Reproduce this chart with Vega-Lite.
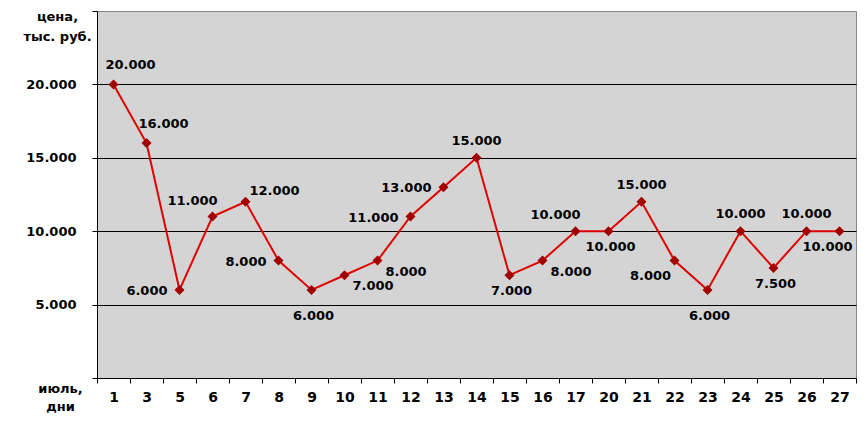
{
  "$schema": "https://vega.github.io/schema/vega-lite/v6.json",
  "autosize": {"type": "none"},
  "padding": {"left": 97, "top": 11, "right": 12, "bottom": 51},
  "width": 759,
  "height": 367,
  "background": "white",
  "config": {
    "view": {"fill": "#D4D4D4", "stroke": "#888888", "strokeWidth": 1},
    "font": "DejaVu Sans",
    "text": {"font": "DejaVu Sans", "fontWeight": "bold", "fontSize": 13, "color": "#000000"}
  },
  "data": {
    "values": [
      {"day": "1", "price": 20, "label": "20.000"},
      {"day": "3", "price": 16, "label": "16.000"},
      {"day": "5", "price": 6, "label": "6.000"},
      {"day": "6", "price": 11, "label": "11.000"},
      {"day": "7", "price": 12, "label": "12.000"},
      {"day": "8", "price": 8, "label": "8.000"},
      {"day": "9", "price": 6, "label": "6.000"},
      {"day": "10", "price": 7, "label": "7.000"},
      {"day": "11", "price": 8, "label": "8.000"},
      {"day": "12", "price": 11, "label": "11.000"},
      {"day": "13", "price": 13, "label": "13.000"},
      {"day": "14", "price": 15, "label": "15.000"},
      {"day": "15", "price": 7, "label": "7.000"},
      {"day": "16", "price": 8, "label": "8.000"},
      {"day": "17", "price": 10, "label": "10.000"},
      {"day": "20", "price": 10, "label": "10.000"},
      {"day": "21", "price": 12, "label": "15.000"},
      {"day": "22", "price": 8, "label": "8.000"},
      {"day": "23", "price": 6, "label": "6.000"},
      {"day": "24", "price": 10, "label": "10.000"},
      {"day": "25", "price": 7.5, "label": "7.500"},
      {"day": "26", "price": 10, "label": "10.000"},
      {"day": "27", "price": 10, "label": "10.000"}
    ]
  },
  "encoding": {
    "x": {
      "field": "day", "type": "ordinal", "sort": null,
      "scale": {"type": "band", "paddingInner": 0, "paddingOuter": 0},
      "axis": {
        "title": ["июль,", "дни"],
        "titleFont": "DejaVu Sans", "titleFontWeight": "bold", "titleFontSize": 13, "titleColor": "#000000",
        "titleAngle": 0, "titleAlign": "center", "titleBaseline": "alphabetic",
        "titleX": -37, "titleY": 14, "titleLineHeight": 18,
        "labelAngle": 0, "labelFont": "DejaVu Sans", "labelFontWeight": "bold", "labelFontSize": 14,
        "labelColor": "#000000", "labelPadding": 7, "labelBaseline": "top",
        "tickBand": "extent", "tickSize": 5, "tickColor": "black",
        "domainColor": "black", "domainWidth": 1, "grid": false
      }
    },
    "y": {
      "field": "price", "type": "quantitative",
      "scale": {"domain": [0, 25], "nice": false, "zero": true},
      "axis": {
        "values": [0, 5, 10, 15, 20, 25],
        "labelExpr": "datum.value == 0 || datum.value == 25 ? '' : format(datum.value, '.3f')",
        "title": ["цена,", "тыс. руб."],
        "titleFont": "DejaVu Sans", "titleFontWeight": "bold", "titleFontSize": 13, "titleColor": "#000000",
        "titleAngle": 0, "titleAlign": "center", "titleBaseline": "alphabetic",
        "titleX": -40, "titleY": 9, "titleLineHeight": 20,
        "labelFont": "DejaVu Sans", "labelFontWeight": "bold", "labelFontSize": 13,
        "labelColor": "#000000", "labelPadding": 16,
        "tickSize": 5, "tickColor": "black",
        "domainColor": "black", "domainWidth": 1,
        "grid": true, "gridColor": "black", "gridWidth": 1,
        "gridOpacity": {"condition": {"test": "datum.value == 0 || datum.value == 25", "value": 0}, "value": 1}
      }
    }
  },
  "layer": [
    {"mark": {"type": "line", "color": "#E00000", "strokeWidth": 2}},
    {"mark": {"type": "point", "shape": "diamond", "filled": true, "size": 100, "color": "#A00000", "opacity": 1}},
    {
      "transform": [{"filter": {"field": "day", "oneOf": ["14", "21", "24", "26"]}}],
      "mark": {"type": "text", "dx": 0, "dy": -17},
      "encoding": {"text": {"field": "label"}}
    },
    {
      "transform": [{"filter": {"field": "day", "oneOf": ["1", "3"]}}],
      "mark": {"type": "text", "dx": 17, "dy": -19},
      "encoding": {"text": {"field": "label"}}
    },
    {
      "transform": [{"filter": {"field": "day", "oneOf": ["7"]}}],
      "mark": {"type": "text", "dx": 29, "dy": -11},
      "encoding": {"text": {"field": "label"}}
    },
    {
      "transform": [{"filter": {"field": "day", "oneOf": ["6", "17"]}}],
      "mark": {"type": "text", "dx": -20, "dy": -16},
      "encoding": {"text": {"field": "label"}}
    },
    {
      "transform": [{"filter": {"field": "day", "oneOf": ["5", "8", "12", "13"]}}],
      "mark": {"type": "text", "align": "right", "dx": -12, "dy": 1},
      "encoding": {"text": {"field": "label"}}
    },
    {
      "transform": [{"filter": {"field": "day", "oneOf": ["22"]}}],
      "mark": {"type": "text", "dx": -24, "dy": 15},
      "encoding": {"text": {"field": "label"}}
    },
    {
      "transform": [{"filter": {"field": "day", "oneOf": ["15", "20", "25"]}}],
      "mark": {"type": "text", "dx": 2, "dy": 16},
      "encoding": {"text": {"field": "label"}}
    },
    {
      "transform": [{"filter": {"field": "day", "oneOf": ["27"]}}],
      "mark": {"type": "text", "dx": -12, "dy": 16},
      "encoding": {"text": {"field": "label"}}
    },
    {
      "transform": [{"filter": {"field": "day", "oneOf": ["9", "23"]}}],
      "mark": {"type": "text", "dx": 2, "dy": 26},
      "encoding": {"text": {"field": "label"}}
    },
    {
      "transform": [{"filter": {"field": "day", "oneOf": ["10", "11", "16"]}}],
      "mark": {"type": "text", "align": "left", "dx": 8, "dy": 11},
      "encoding": {"text": {"field": "label"}}
    }
  ]
}
